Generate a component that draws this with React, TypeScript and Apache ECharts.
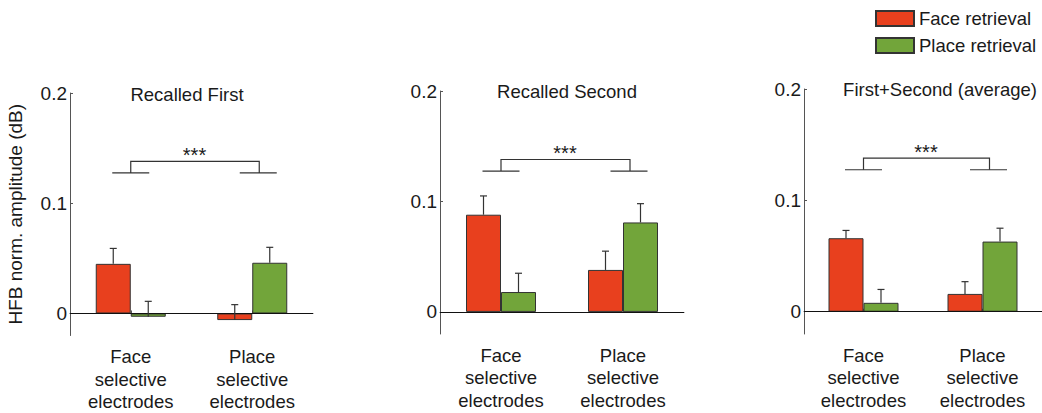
import React, { useEffect, useRef } from "react";
import * as echarts from "echarts";

const categories = ["Face\nselective\nelectrodes", "Place\nselective\nelectrodes"];
const panelTitles = ["Recalled First", "Recalled Second", "First+Second (average)"];
const seriesNames = ["Face retrieval", "Place retrieval"];
// per panel, per category
const faceRetrievalMeans = [
  [0.045, -0.006],
  [0.088, 0.038],
  [0.066, 0.016],
];
const faceRetrievalErrors = [
  [0.014, 0.014],
  [0.017, 0.017],
  [0.007, 0.011],
];
const placeRetrievalMeans = [
  [-0.003, 0.046],
  [0.018, 0.081],
  [0.008, 0.063],
];
const placeRetrievalErrors = [
  [0.014, 0.014],
  [0.017, 0.017],
  [0.012, 0.012],
];
const yTicks = [0, 0.1, 0.2];
const yMin = -0.02;
const yMax = 0.2;
// significance bracket: [short line level, bracket top level]
const bracketLevels = [0.1275, 0.138];
const sigLabel = "***";

const RED = "#E8401E";
const GREEN = "#72A53A";
const FONT = "Liberation Sans, Arial, sans-serif";
const TXT = "#1a1a1a";

const grids = [
  { left: 70, top: 93, width: 243, height: 243 },
  { left: 440, top: 91, width: 244, height: 243 },
  { left: 804, top: 89, width: 244, height: 245 },
];
const titleX = [187, 567, 940];
const titleY = [94, 91, 89];
const BAR_W = 35;

export default function App() {
  const ref = useRef<HTMLDivElement>(null);
  useEffect(() => {
    if (!ref.current) return;
    const chart = echarts.init(ref.current, null, { renderer: "svg" });

    const xAxis: any[] = [];
    const yAxis: any[] = [];
    const series: any[] = [];

    grids.forEach((g, i) => {
      xAxis.push({
        type: "category",
        gridIndex: i,
        data: categories,
        axisLine: { lineStyle: { color: "#555", width: 1 } },
        axisTick: { show: true, inside: true, length: 3, alignWithLabel: true, lineStyle: { color: "#555" } },
        axisLabel: {
          color: TXT,
          fontFamily: FONT,
          fontSize: 18.5,
          lineHeight: 22.5,
          margin: 10,
        },
      });
      yAxis.push({
        type: "value",
        gridIndex: i,
        min: yMin,
        max: yMax,
        splitLine: { show: false },
        axisLine: { show: true, lineStyle: { color: "#555", width: 1 } },
        axisTick: { show: true, inside: true, length: 3, customValues: yTicks, lineStyle: { color: "#555" } },
        axisLabel: {
          color: TXT,
          fontFamily: FONT,
          fontSize: 19,
          margin: 3,
          customValues: yTicks,
          formatter: (v: number) => String(Math.round(v * 10) / 10),
        },
        name: i === 0 ? "HFB norm. amplitude (dB)" : "",
        nameLocation: "middle",
        nameGap: 45,
        nameRotate: 90,
        nameTextStyle: { color: TXT, fontFamily: FONT, fontSize: 19 },
      });

      series.push({
        name: seriesNames[0],
        type: "bar",
        xAxisIndex: i,
        yAxisIndex: i,
        data: faceRetrievalMeans[i],
        barWidth: BAR_W,
        barGap: "0%",
        itemStyle: { color: RED, borderColor: "#333", borderWidth: 1 },
        z: 2,
        markLine: {
          silent: true,
          symbol: "none",
          label: { show: false },
          lineStyle: { color: "#111", width: 1, type: "solid" },
          data: [{ yAxis: 0 }],
        },
      });
      series.push({
        name: seriesNames[1],
        type: "bar",
        xAxisIndex: i,
        yAxisIndex: i,
        data: placeRetrievalMeans[i],
        barWidth: BAR_W,
        barGap: "0%",
        itemStyle: { color: GREEN, borderColor: "#333", borderWidth: 1 },
        z: 2,
      });

      const errData: any[] = [];
      [0, 1].forEach((c) => {
        errData.push([c, faceRetrievalMeans[i][c], faceRetrievalErrors[i][c], -1]);
        errData.push([c, placeRetrievalMeans[i][c], placeRetrievalErrors[i][c], 1]);
      });
      series.push({
        name: "err" + i,
        type: "custom",
        xAxisIndex: i,
        yAxisIndex: i,
        data: errData,
        z: 5,
        silent: true,
        renderItem: (params: any, api: any) => {
          const cat = api.value(0);
          const m = api.value(1);
          const e = api.value(2);
          const side = api.value(3);
          const p0 = api.coord([cat, m]);
          const p1 = api.coord([cat, m + e]);
          const x = p0[0] + (side * BAR_W) / 2;
          const st = { stroke: "#333", lineWidth: 1.2 };
          return {
            type: "group",
            children: [
              { type: "line", shape: { x1: x, y1: p0[1], x2: x, y2: p1[1] }, style: st },
              { type: "line", shape: { x1: x - 3.5, y1: p1[1], x2: x + 3.5, y2: p1[1] }, style: st },
            ],
          };
        },
      });

      series.push({
        name: "sig" + i,
        type: "custom",
        xAxisIndex: i,
        yAxisIndex: i,
        data: [[0, 1, bracketLevels[0], bracketLevels[1]]],
        z: 5,
        silent: true,
        renderItem: (params: any, api: any) => {
          const a = api.coord([api.value(0), api.value(2)]);
          const b = api.coord([api.value(1), api.value(2)]);
          const top = api.coord([api.value(0), api.value(3)])[1];
          const ax = a[0];
          const bx = b[0] + 6;
          const st = { stroke: "#333", lineWidth: 1.2 };
          return {
            type: "group",
            children: [
              { type: "line", shape: { x1: ax - 18.5, y1: a[1], x2: ax + 18.5, y2: a[1] }, style: st },
              { type: "line", shape: { x1: bx - 18.5, y1: a[1], x2: bx + 18.5, y2: a[1] }, style: st },
              {
                type: "polyline",
                shape: { points: [[ax, a[1]], [ax, top], [bx + 1, top], [bx + 1, a[1]]] },
                style: { stroke: "#333", lineWidth: 1.2, fill: "none" },
              },
              {
                type: "text",
                style: {
                  text: sigLabel,
                  x: (ax + bx) / 2,
                  y: top - 6,
                  textAlign: "center",
                  textVerticalAlign: "middle",
                  fontSize: 20,
                  fontFamily: FONT,
                  fill: TXT,
                },
              },
            ],
          };
        },
      });
    });

    const option: any = {
      animation: false,
      backgroundColor: "#fff",
      grid: grids.map((g) => ({ ...g, containLabel: false })),
      xAxis,
      yAxis,
      series,
      legend: {
        data: seriesNames,
        orient: "vertical",
        left: 875,
        top: 9,
        itemWidth: 38,
        itemHeight: 15,
        itemGap: 8,
        icon: "rect",
        textStyle: { color: TXT, fontFamily: FONT, fontSize: 18.5, padding: [0, 0, 0, 0] },
        padding: 0,
        selectedMode: false,
      },
      graphic: panelTitles.map((t, i) => ({
        type: "text",
        x: titleX[i],
        y: titleY[i],
        style: {
          text: t,
          textAlign: "center",
          textVerticalAlign: "middle",
          fontSize: 18.5,
          fontFamily: FONT,
          fill: TXT,
        },
      })),
    };
    chart.setOption(option);
    return () => chart.dispose();
  }, []);
  return (
    <div
      ref={ref}
      style={{ position: "fixed", left: 0, top: 0, width: 1042, height: 413 }}
    />
  );
}
